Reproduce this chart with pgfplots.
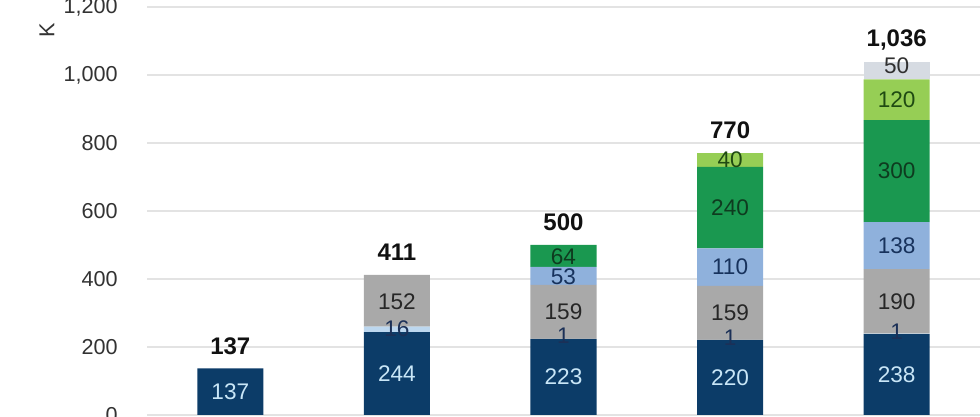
\documentclass[border=0pt]{standalone}
\usepackage{fontspec}
\setmainfont{Liberation Sans}
\usepackage{pgfplots}
\pgfplotsset{compat=1.18}
\definecolor{navy}{HTML}{0C3C68}
\definecolor{lblue}{HTML}{BCD7EF}
\definecolor{gry}{HTML}{A9A9A9}
\definecolor{mblue}{HTML}{8FB1DC}
\definecolor{grn}{HTML}{1A9850}
\definecolor{lgrn}{HTML}{96CE55}
\definecolor{lgry}{HTML}{D6DBE2}
\definecolor{gridc}{HTML}{E3E3E3}
\definecolor{tickc}{HTML}{333333}
\definecolor{navytext}{HTML}{C9E6F7}
\definecolor{lbluetext}{HTML}{1B3057}
\definecolor{grytext}{HTML}{262626}
\definecolor{mbluetext}{HTML}{17325C}
\definecolor{grntext}{HTML}{0E3B1F}
\definecolor{lgrntext}{HTML}{1F4A12}
\definecolor{lgrytext}{HTML}{303030}
\definecolor{totaltext}{HTML}{111111}
\pgfplotsset{
  common/.style={at={(73.5pt,1pt)}, anchor=south west, scale only axis,
    width=416.5pt, height=204pt, xmin=-0.5, xmax=4.5, ymin=0, ymax=1200},
}
\begin{document}
\begin{tikzpicture}
\path[use as bounding box, clip] (0,0) rectangle (490pt,208.5pt);
\begin{axis}[common,
  ybar stacked, bar width=33pt,
  ytick={0,200,...,1200}, xtick=\empty,
  ymajorgrids, grid style={line width=0.6pt, color=gridc},
  axis line style={draw=none}, major tick length=0pt,
  yticklabel style={anchor=east, inner sep=0pt, xshift=-14.5pt,
    font=\fontsize{10.8}{12}\selectfont, text=tickc},
  /pgf/number format/1000 sep={,},
  /pgf/number format/assume math mode=true,
]
\addplot[fill=navy, draw=none] coordinates {(0,137) (1,244) (2,223) (3,220) (4,238)};
\addplot[fill=lblue, draw=none] coordinates {(0,0) (1,16) (2,1) (3,1) (4,1)};
\addplot[fill=gry, draw=none] coordinates {(0,0) (1,152) (2,159) (3,159) (4,190)};
\addplot[fill=mblue, draw=none] coordinates {(0,0) (1,0) (2,53) (3,110) (4,138)};
\addplot[fill=grn, draw=none] coordinates {(0,0) (1,0) (2,64) (3,240) (4,300)};
\addplot[fill=lgrn, draw=none] coordinates {(0,0) (1,0) (2,0) (3,40) (4,120)};
\addplot[fill=lgry, draw=none] coordinates {(0,0) (1,0) (2,0) (3,0) (4,50)};
\end{axis}
\begin{axis}[common, hide axis, clip=false,
  nodes near coords, point meta=explicit symbolic,
  nodes near coords align={center},
  every node near coord/.append style={font=\fontsize{11.3}{12}\selectfont, inner sep=0pt},
]
\addplot[draw=none, mark=none, every node near coord/.append style={text=navytext}]
  coordinates {(0,68.5)[137] (1,122)[244] (2,111.5)[223] (3,110)[220] (4,119)[238]};
\addplot[draw=none, mark=none, every node near coord/.append style={text=lbluetext}]
  coordinates {(1,255)[16] (2,233)[1] (3,228)[1] (4,245)[1]};
\addplot[draw=none, mark=none, every node near coord/.append style={text=grytext}]
  coordinates {(1,333)[152] (2,303)[159] (3,300)[159] (4,334)[190]};
\addplot[draw=none, mark=none, every node near coord/.append style={text=mbluetext}]
  coordinates {(2,407)[53] (3,435)[110] (4,498)[138]};
\addplot[draw=none, mark=none, every node near coord/.append style={text=grntext}]
  coordinates {(2,466)[64] (3,610)[240] (4,717)[300]};
\addplot[draw=none, mark=none, every node near coord/.append style={text=lgrntext}]
  coordinates {(3,750)[40] (4,927)[120]};
\addplot[draw=none, mark=none, every node near coord/.append style={text=lgrytext}]
  coordinates {(4,1027)[50]};
\addplot[draw=none, mark=none, every node near coord/.append style={text=totaltext, font=\fontsize{12}{13}\selectfont\bfseries}]
  coordinates {(0,202)[137] (1,478)[411] (2,567)[500] (3,837)[770] (4,1103)[{1,036}]};
\end{axis}
\node[rotate=90, font=\fontsize{10.8}{12}\selectfont, text=tickc] at (23.5pt,193.5pt) {K};
\end{tikzpicture}
\end{document}
